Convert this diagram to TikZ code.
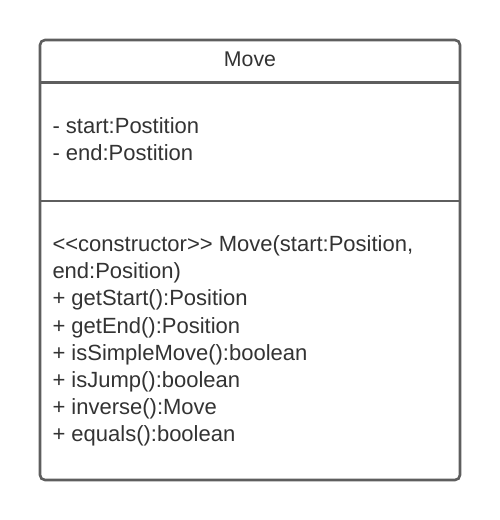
\documentclass[tikz,border=0pt]{standalone}
\usepackage{fontspec}
\setmainfont{Liberation Sans}
\definecolor{linegray}{HTML}{5E5E5E}
\definecolor{textgray}{HTML}{333333}
\tikzset{
  umlline/.style={draw=linegray, line width=2.6pt},
  txt/.style={anchor=base west, inner sep=0pt, outer sep=0pt, text=textgray, font=\fontsize{22}{26}\selectfont},
  title/.style={anchor=base, inner sep=0pt, outer sep=0pt, text=textgray, font=\fontsize{21.3}{26}\selectfont}
}
\begin{document}
\begin{tikzpicture}[x=1pt,y=-1pt]
\useasboundingbox (0,0) rectangle (500,520);
\coordinate (tl) at (40,40);
\coordinate (br) at (460,480);
\draw[umlline, fill=white, rounded corners=5pt] (tl) rectangle (br);
\coordinate (s1l) at (40,82.5);
\coordinate (s1r) at (460,82.5);
\coordinate (s2l) at (40,201);
\coordinate (s2r) at (460,201);
\draw[umlline] (s1l) -- (s1r);
\draw[umlline] (s2l) -- (s2r);
\node[title] (name) at (250,66) {Move};
\node[txt] (a1) at (52.5,133) {- start:Postition};
\node[txt] (a2) at (52.5,160) {- end:Postition};
\node[txt] (m1) at (52.5,251.7) {{<}{<}constructor{>}{>} Move(start:Position,};
\node[txt] (m2) at (52.5,278.8) {end:Position)};
\node[txt] (m3) at (52.5,305.9) {+ getStart():Position};
\node[txt] (m4) at (52.5,333.0) {+ getEnd():Position};
\node[txt] (m5) at (52.5,360.1) {+ isSimpleMove():boolean};
\node[txt] (m6) at (52.5,387.2) {+ isJump():boolean};
\node[txt] (m7) at (52.5,414.3) {+ inverse():Move};
\node[txt] (m8) at (52.5,441.4) {+ equals():boolean};
\end{tikzpicture}
\end{document}
